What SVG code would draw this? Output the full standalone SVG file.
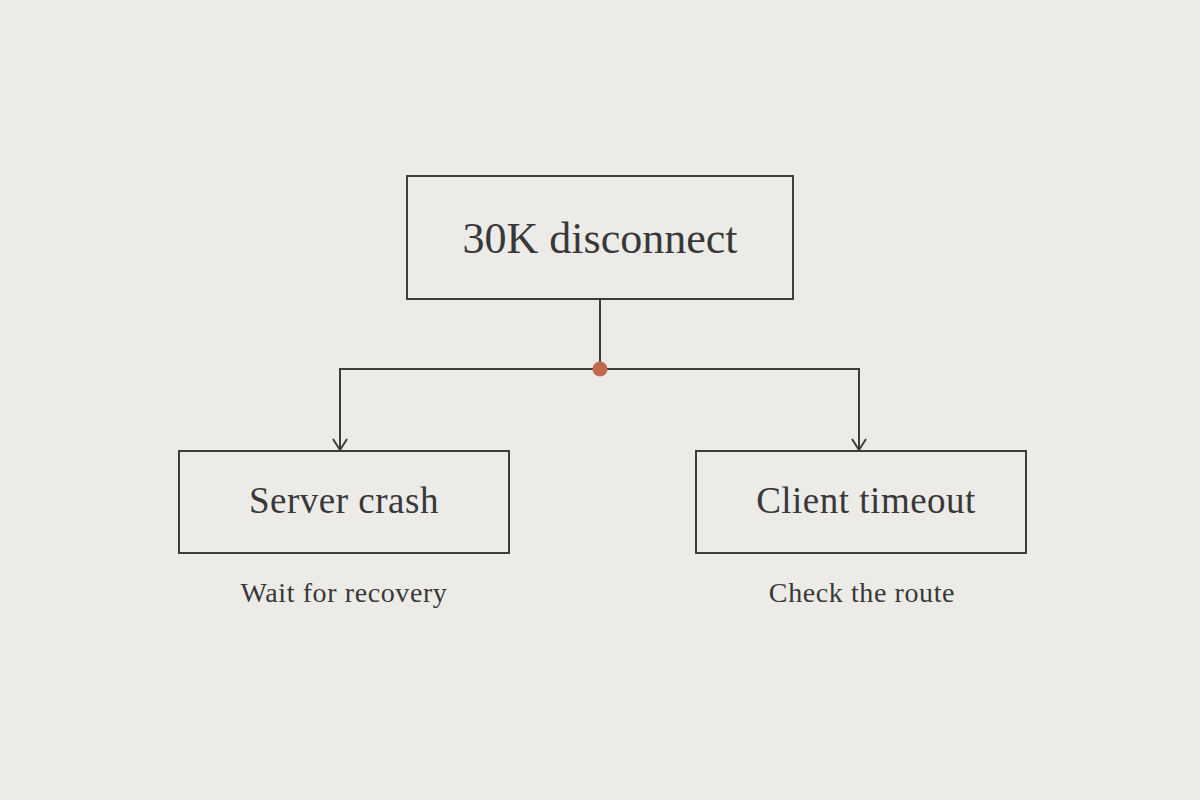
<svg xmlns="http://www.w3.org/2000/svg" width="1200" height="800" viewBox="0 0 1200 800">
<style>
.box{fill:#ecebe7;stroke:#3d3d3d;stroke-width:2}
.t{font-family:"Liberation Serif","Times New Roman",serif;fill:#383838;text-anchor:middle}
.line{fill:none;stroke:#3d3d3d;stroke-width:2}
</style>
<rect width="1200" height="800" fill="#ecebe7"/>
<g id="connectors">
<path class="line" d="M600,299 V369"/>
<path class="line" d="M600,369 H340 V450"/>
<path class="line" d="M600,369 H859 V450"/>
<path d="M333,439 L340,450 L347,439" class="line"/>
<path d="M852,439 L859,450 L866,439" class="line"/>
<circle cx="600" cy="369" r="7.5" fill="#c0694b"/>
</g>
<g id="n-top">
<rect class="box" x="407" y="176" width="386" height="123"/>
<text class="t" x="600" y="253" font-size="44">30K disconnect</text>
</g>
<g id="n-server">
<rect class="box" x="179" y="451" width="330" height="102"/>
<text class="t" x="344" y="513" font-size="37" letter-spacing="0.5">Server crash</text>
<text class="t" x="344" y="602" font-size="28" letter-spacing="0.6">Wait for recovery</text>
</g>
<g id="n-client">
<rect class="box" x="696" y="451" width="330" height="102"/>
<text class="t" x="866" y="513" font-size="37" letter-spacing="0.5">Client timeout</text>
<text class="t" x="862" y="602" font-size="28" letter-spacing="0.6">Check the route</text>
</g>
</svg>
